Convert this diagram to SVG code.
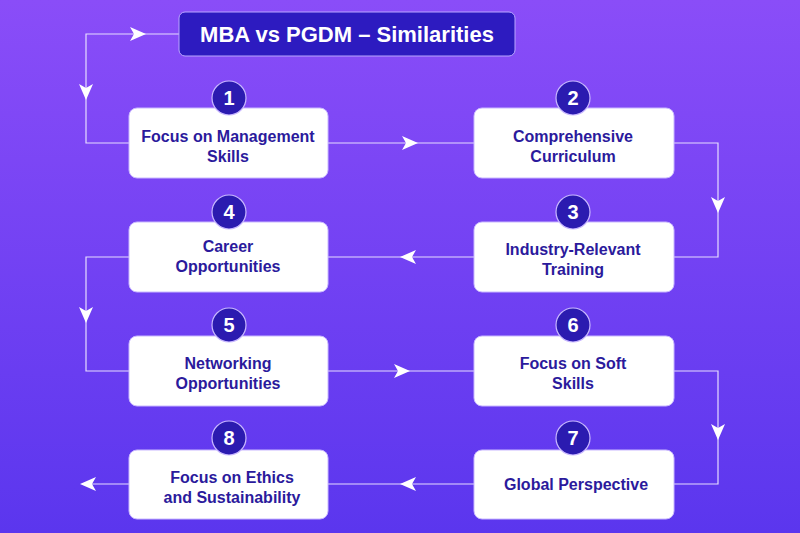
<svg xmlns="http://www.w3.org/2000/svg" width="800" height="533" viewBox="0 0 800 533">
<defs>
<linearGradient id="bg" x1="0" y1="0" x2="0" y2="1"><stop offset="0" stop-color="#8a4df8"/><stop offset="1" stop-color="#5b36ee"/></linearGradient>
<polygon id="ah" points="-8,-7 8,0 -8,7 -4,0"/>
</defs>
<style>
.n{fill:#fff;stroke:#c9b8ff;stroke-width:1}
.c{fill:#2b1bb0;stroke:#c9b8ff;stroke-width:1.2}
.ct{fill:#fff;font:bold 20px "Liberation Sans",sans-serif;text-anchor:middle}
.t{fill:#2b1a9c;font:bold 16px "Liberation Sans",sans-serif;text-anchor:middle}
.l{fill:none;stroke:#e6dcff;stroke-width:1.2}
.a{fill:#fff}
</style>
<rect width="800" height="533" fill="url(#bg)"/>
<g id="connectors">
<path class="l" d="M179,34 H86 V143 H129"/>
<path class="l" d="M328,143 H474"/>
<path class="l" d="M674,143 H718 V257 H674"/>
<path class="l" d="M474,257 H328"/>
<path class="l" d="M129,257 H86 V371 H129"/>
<path class="l" d="M328,371 H474"/>
<path class="l" d="M674,371 H718 V484 H674"/>
<path class="l" d="M474,484 H328"/>
<path class="l" d="M129,484 H82"/>
<use href="#ah" class="a" transform="translate(138,34)"/>
<use href="#ah" class="a" transform="translate(86,92) rotate(90)"/>
<use href="#ah" class="a" transform="translate(410,143)"/>
<use href="#ah" class="a" transform="translate(718,205) rotate(90)"/>
<use href="#ah" class="a" transform="translate(408,257) rotate(180)"/>
<use href="#ah" class="a" transform="translate(86,315) rotate(90)"/>
<use href="#ah" class="a" transform="translate(402,371)"/>
<use href="#ah" class="a" transform="translate(718,432) rotate(90)"/>
<use href="#ah" class="a" transform="translate(408,484) rotate(180)"/>
<use href="#ah" class="a" transform="translate(88,484) rotate(180)"/>
</g>
<g id="title"><rect x="179" y="12" width="336" height="44" rx="6" fill="#2d1bc0" stroke="#b9a6ff"/>
<text x="347" y="42" fill="#fff" text-anchor="middle" style="font:bold 22px 'Liberation Sans',sans-serif">MBA vs PGDM – Similarities</text></g>
<g id="n1"><rect class="n" x="129" y="108" width="199" height="70" rx="8"/><text class="t" x="228" y="142">Focus on Management</text><text class="t" x="228" y="162">Skills</text><circle class="c" cx="229" cy="98" r="17"/><text class="ct" x="229" y="105">1</text></g>
<g id="n2"><rect class="n" x="474" y="108" width="200" height="70" rx="8"/><text class="t" x="573" y="142">Comprehensive</text><text class="t" x="573" y="162">Curriculum</text><circle class="c" cx="573" cy="98" r="17"/><text class="ct" x="573" y="105">2</text></g>
<g id="n3"><rect class="n" x="474" y="222" width="200" height="70" rx="8"/><text class="t" x="573" y="255">Industry-Relevant</text><text class="t" x="573" y="275">Training</text><circle class="c" cx="573" cy="212" r="17"/><text class="ct" x="573" y="219">3</text></g>
<g id="n4"><rect class="n" x="129" y="222" width="199" height="70" rx="8"/><text class="t" x="228" y="252">Career</text><text class="t" x="228" y="272">Opportunities</text><circle class="c" cx="229" cy="212" r="17"/><text class="ct" x="229" y="219">4</text></g>
<g id="n5"><rect class="n" x="129" y="336" width="199" height="70" rx="8"/><text class="t" x="228" y="369">Networking</text><text class="t" x="228" y="389">Opportunities</text><circle class="c" cx="229" cy="325" r="17"/><text class="ct" x="229" y="332">5</text></g>
<g id="n6"><rect class="n" x="474" y="336" width="200" height="70" rx="8"/><text class="t" x="573" y="369">Focus on Soft</text><text class="t" x="573" y="389">Skills</text><circle class="c" cx="573" cy="325" r="17"/><text class="ct" x="573" y="332">6</text></g>
<g id="n7"><rect class="n" x="474" y="450" width="200" height="69" rx="8"/><text class="t" x="576" y="490">Global Perspective</text><circle class="c" cx="573" cy="438" r="17"/><text class="ct" x="573" y="445">7</text></g>
<g id="n8"><rect class="n" x="129" y="450" width="199" height="69" rx="8"/><text class="t" x="232" y="483">Focus on Ethics</text><text class="t" x="232" y="503">and Sustainability</text><circle class="c" cx="229" cy="438" r="17"/><text class="ct" x="229" y="445">8</text></g>
</svg>
